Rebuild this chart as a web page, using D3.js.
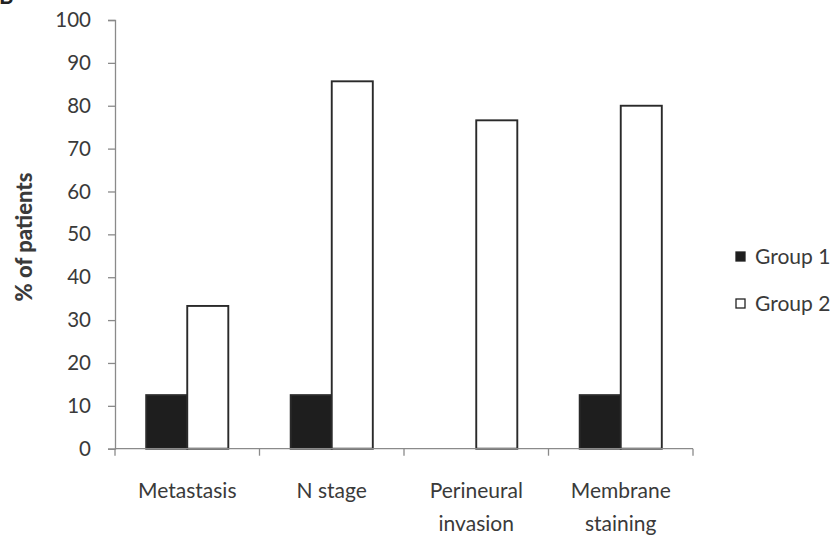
<!DOCTYPE html>
<html><head><meta charset="utf-8">
<script src="https://cdn.jsdelivr.net/npm/d3@7"></script>
<style>body{margin:0;background:#fff}svg{display:block}</style>
</head><body>
<svg id="c" width="838" height="540"></svg>
<script>
const categories = [["Metastasis"], ["N stage"], ["Perineural", "invasion"], ["Membrane", "staining"]];
const groups = ["Group 1", "Group 2"];
const group1 = [12.5, 12.5, 0, 12.5];
const group2 = [33.3, 85.7, 76.6, 80];
const yTicks = [0, 10, 20, 30, 40, 50, 60, 70, 80, 90, 100];
const yTitle = "% of patients";
const panelLetter = "B";

const svg = d3.select("#c");
const font = "Lato, 'Open Sans', sans-serif";
const textColor = "#3a3a3a";
const axisColor = "#8a8a8a";
const fills = ["#1e1e1e", "#ffffff"];

const catKeys = categories.map(c => c.join(" "));
const x = d3.scaleBand().domain(catKeys).range([115, 693]).padding(0);
const xg = d3.scaleBand().domain(groups).range([0, x.bandwidth()]).paddingInner(0).paddingOuter(0.76);
const y = d3.scaleLinear().domain([0, 100]).range([448.7, 20]);

// panel letter (cropped at the top edge, as in the reference)
svg.append("text").attr("x", -1).attr("y", 4).attr("font-family", font).attr("font-weight", "bold")
  .attr("font-size", 22).attr("fill", "#222").text(panelLetter);

// y axis
const yAxis = svg.append("g").attr("transform", "translate(115,0)")
  .call(d3.axisLeft(y).tickValues(yTicks).tickSize(7).tickPadding(17).tickFormat(d3.format("d")));
yAxis.select(".domain").attr("stroke", axisColor).attr("stroke-width", 1.3);
yAxis.selectAll(".tick line").attr("stroke", axisColor).attr("stroke-width", 1.3);
yAxis.selectAll(".tick text").attr("font-family", font).attr("font-size", 20.5).attr("fill", textColor);

// bars
const data = catKeys.map((k, i) => ({ key: k, vals: [group1[i], group2[i]] }));
const gCat = svg.append("g").selectAll("g").data(data).join("g")
  .attr("transform", d => `translate(${x(d.key)},0)`);
gCat.selectAll("rect").data(d => d.vals.map((v, j) => ({ v, g: groups[j], j })).filter(e => e.v > 0))
  .join("rect")
  .attr("x", e => xg(e.g))
  .attr("width", xg.bandwidth())
  .attr("y", e => y(e.v))
  .attr("height", e => y(0) - y(e.v))
  .attr("fill", e => fills[e.j])
  .attr("stroke", "#2a2a2a")
  .attr("stroke-width", 1.9);

// x axis
const xAxisG = svg.append("g");
xAxisG.append("line").attr("x1", x.range()[0]).attr("x2", x.range()[1])
  .attr("y1", y(0)).attr("y2", y(0)).attr("stroke", axisColor).attr("stroke-width", 1.3);
const bounds = catKeys.map(k => x(k)).concat([x.range()[1]]);
xAxisG.selectAll("line.tk").data(bounds).join("line").attr("class", "tk")
  .attr("x1", d => d).attr("x2", d => d).attr("y1", y(0)).attr("y2", y(0) + 7)
  .attr("stroke", axisColor).attr("stroke-width", 1.3);
const lbl = xAxisG.selectAll("text.cl").data(categories).join("text").attr("class", "cl")
  .attr("x", (d, i) => x(catKeys[i]) + x.bandwidth() / 2)
  .attr("y", 498)
  .attr("text-anchor", "middle")
  .attr("font-family", font).attr("font-size", 21).attr("fill", textColor);
lbl.selectAll("tspan").data(d => d).join("tspan")
  .attr("x", function () { return this.parentNode.getAttribute("x"); })
  .attr("dy", (d, i) => i === 0 ? 0 : 33)
  .text(d => d);

// y title
svg.append("text").attr("transform", "translate(32,237) rotate(-90)")
  .attr("text-anchor", "middle").attr("font-family", font).attr("font-weight", "900")
  .attr("font-size", 22).attr("fill", textColor).text(yTitle);

// legend
const leg = svg.append("g").selectAll("g").data(groups).join("g")
  .attr("transform", (d, i) => `translate(736,${257 + i * 47})`);
leg.append("rect").attr("x", 0).attr("y", -5).attr("width", 9).attr("height", 9)
  .attr("fill", (d, i) => fills[i]).attr("stroke", "#222").attr("stroke-width", 1.3);
leg.append("text").attr("x", 19).attr("y", 7).attr("font-family", font).attr("font-size", 21)
  .attr("fill", textColor).text(d => d);
</script>
</body></html>
